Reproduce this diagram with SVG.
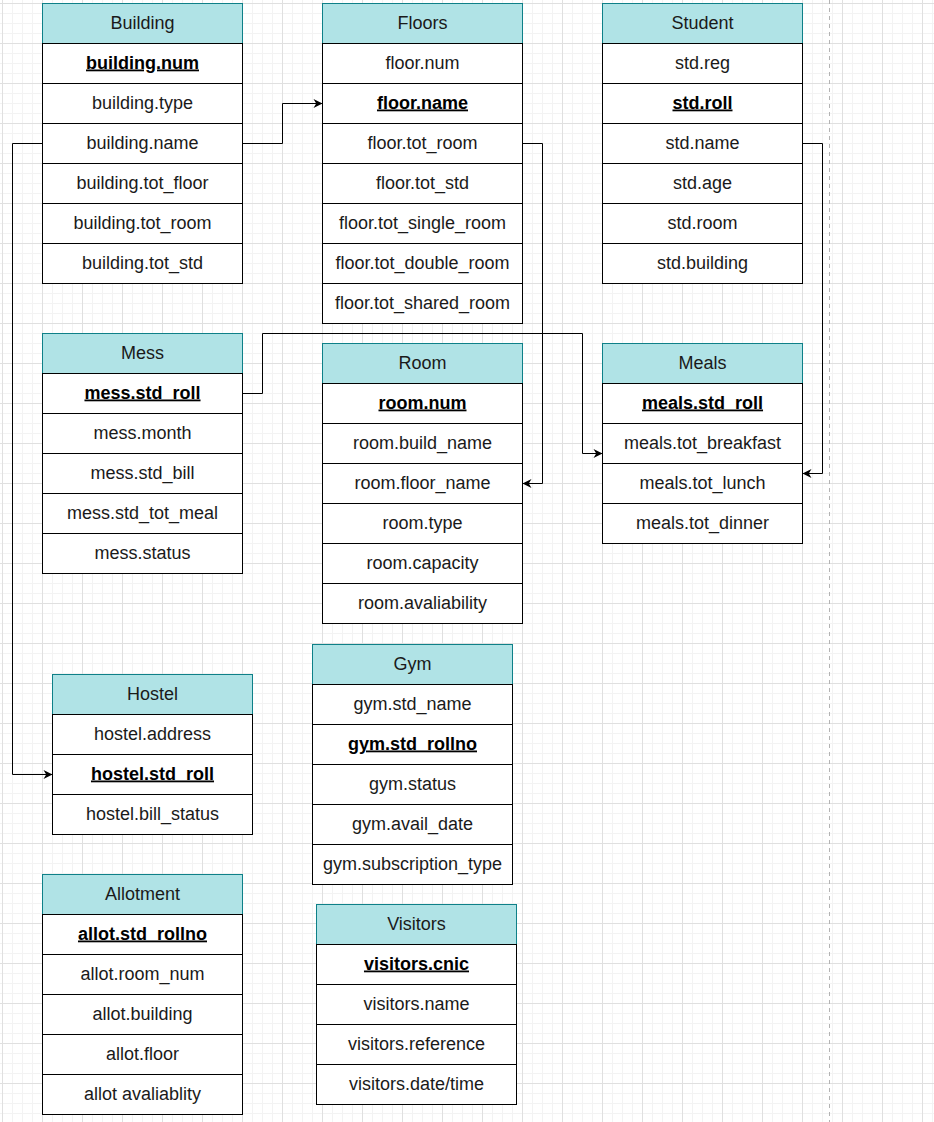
<svg xmlns="http://www.w3.org/2000/svg" width="934" height="1122" viewBox="0 0 934 1122">
<defs>
<pattern id="grid" patternUnits="userSpaceOnUse" x="2" y="3" width="40" height="40">
<path d="M10.5,0 V40 M20.5,0 V40 M30.5,0 V40 M0,10.5 H40 M0,20.5 H40 M0,30.5 H40" stroke="#f3f3f3" stroke-width="1" fill="none"/>
<path d="M0.5,0 V40 M0,0.5 H40" stroke="#e0e0e0" stroke-width="1" fill="none"/>
</pattern>
<marker id="arr" viewBox="0 0 10 10" markerUnits="userSpaceOnUse" markerWidth="10" markerHeight="9" refX="10" refY="5" orient="auto">
<path d="M0,0 L10,5 L0,10 L3,5 Z" fill="#000"/>
</marker>
<style>
.h{fill:#b0e3e6;stroke:#0e8088;stroke-width:1}
.c{fill:#fff;stroke:#000;stroke-width:1}
text{font-family:"Liberation Sans",Arial,sans-serif;font-size:18px;fill:#1a1a1a;text-anchor:middle}
.k{font-weight:bold;text-decoration:underline;fill:#000}
.ln{fill:none;stroke:#000;stroke-width:1}
</style>
</defs>
<rect x="0" y="0" width="934" height="1122" fill="#fff"/>
<rect x="0" y="0" width="934" height="1122" fill="url(#grid)"/>
<line x1="829.5" y1="0" x2="829.5" y2="1122" stroke="#b3b3b3" stroke-width="1" stroke-dasharray="4,4"/>

<g id="building">
<rect class="h" x="42.5" y="3.5" width="200" height="40"/><text x="142.5" y="28.5">Building</text>
<rect class="c" x="42.5" y="43.5" width="200" height="40"/><text class="k" x="142.5" y="68.5">building.num</text>
<rect class="c" x="42.5" y="83.5" width="200" height="40"/><text x="142.5" y="108.5">building.type</text>
<rect class="c" x="42.5" y="123.5" width="200" height="40"/><text x="142.5" y="148.5">building.name</text>
<rect class="c" x="42.5" y="163.5" width="200" height="40"/><text x="142.5" y="188.5">building.tot_floor</text>
<rect class="c" x="42.5" y="203.5" width="200" height="40"/><text x="142.5" y="228.5">building.tot_room</text>
<rect class="c" x="42.5" y="243.5" width="200" height="40"/><text x="142.5" y="268.5">building.tot_std</text>
</g>

<g id="floors">
<rect class="h" x="322.5" y="3.5" width="200" height="40"/><text x="422.5" y="28.5">Floors</text>
<rect class="c" x="322.5" y="43.5" width="200" height="40"/><text x="422.5" y="68.5">floor.num</text>
<rect class="c" x="322.5" y="83.5" width="200" height="40"/><text class="k" x="422.5" y="108.5">floor.name</text>
<rect class="c" x="322.5" y="123.5" width="200" height="40"/><text x="422.5" y="148.5">floor.tot_room</text>
<rect class="c" x="322.5" y="163.5" width="200" height="40"/><text x="422.5" y="188.5">floor.tot_std</text>
<rect class="c" x="322.5" y="203.5" width="200" height="40"/><text x="422.5" y="228.5">floor.tot_single_room</text>
<rect class="c" x="322.5" y="243.5" width="200" height="40"/><text x="422.5" y="268.5">floor.tot_double_room</text>
<rect class="c" x="322.5" y="283.5" width="200" height="40"/><text x="422.5" y="308.5">floor.tot_shared_room</text>
</g>

<g id="student">
<rect class="h" x="602.5" y="3.5" width="200" height="40"/><text x="702.5" y="28.5">Student</text>
<rect class="c" x="602.5" y="43.5" width="200" height="40"/><text x="702.5" y="68.5">std.reg</text>
<rect class="c" x="602.5" y="83.5" width="200" height="40"/><text class="k" x="702.5" y="108.5">std.roll</text>
<rect class="c" x="602.5" y="123.5" width="200" height="40"/><text x="702.5" y="148.5">std.name</text>
<rect class="c" x="602.5" y="163.5" width="200" height="40"/><text x="702.5" y="188.5">std.age</text>
<rect class="c" x="602.5" y="203.5" width="200" height="40"/><text x="702.5" y="228.5">std.room</text>
<rect class="c" x="602.5" y="243.5" width="200" height="40"/><text x="702.5" y="268.5">std.building</text>
</g>

<g id="mess">
<rect class="h" x="42.5" y="333.5" width="200" height="40"/><text x="142.5" y="358.5">Mess</text>
<rect class="c" x="42.5" y="373.5" width="200" height="40"/><text class="k" x="142.5" y="398.5">mess.std_roll</text>
<rect class="c" x="42.5" y="413.5" width="200" height="40"/><text x="142.5" y="438.5">mess.month</text>
<rect class="c" x="42.5" y="453.5" width="200" height="40"/><text x="142.5" y="478.5">mess.std_bill</text>
<rect class="c" x="42.5" y="493.5" width="200" height="40"/><text x="142.5" y="518.5">mess.std_tot_meal</text>
<rect class="c" x="42.5" y="533.5" width="200" height="40"/><text x="142.5" y="558.5">mess.status</text>
</g>

<g id="room">
<rect class="h" x="322.5" y="343.5" width="200" height="40"/><text x="422.5" y="368.5">Room</text>
<rect class="c" x="322.5" y="383.5" width="200" height="40"/><text class="k" x="422.5" y="408.5">room.num</text>
<rect class="c" x="322.5" y="423.5" width="200" height="40"/><text x="422.5" y="448.5">room.build_name</text>
<rect class="c" x="322.5" y="463.5" width="200" height="40"/><text x="422.5" y="488.5">room.floor_name</text>
<rect class="c" x="322.5" y="503.5" width="200" height="40"/><text x="422.5" y="528.5">room.type</text>
<rect class="c" x="322.5" y="543.5" width="200" height="40"/><text x="422.5" y="568.5">room.capacity</text>
<rect class="c" x="322.5" y="583.5" width="200" height="40"/><text x="422.5" y="608.5">room.avaliability</text>
</g>

<g id="meals">
<rect class="h" x="602.5" y="343.5" width="200" height="40"/><text x="702.5" y="368.5">Meals</text>
<rect class="c" x="602.5" y="383.5" width="200" height="40"/><text class="k" x="702.5" y="408.5">meals.std_roll</text>
<rect class="c" x="602.5" y="423.5" width="200" height="40"/><text x="702.5" y="448.5">meals.tot_breakfast</text>
<rect class="c" x="602.5" y="463.5" width="200" height="40"/><text x="702.5" y="488.5">meals.tot_lunch</text>
<rect class="c" x="602.5" y="503.5" width="200" height="40"/><text x="702.5" y="528.5">meals.tot_dinner</text>
</g>

<g id="hostel">
<rect class="h" x="52.5" y="674.5" width="200" height="40"/><text x="152.5" y="699.5">Hostel</text>
<rect class="c" x="52.5" y="714.5" width="200" height="40"/><text x="152.5" y="739.5">hostel.address</text>
<rect class="c" x="52.5" y="754.5" width="200" height="40"/><text class="k" x="152.5" y="779.5">hostel.std_roll</text>
<rect class="c" x="52.5" y="794.5" width="200" height="40"/><text x="152.5" y="819.5">hostel.bill_status</text>
</g>

<g id="gym">
<rect class="h" x="312.5" y="644.5" width="200" height="40"/><text x="412.5" y="669.5">Gym</text>
<rect class="c" x="312.5" y="684.5" width="200" height="40"/><text x="412.5" y="709.5">gym.std_name</text>
<rect class="c" x="312.5" y="724.5" width="200" height="40"/><text class="k" x="412.5" y="749.5">gym.std_rollno</text>
<rect class="c" x="312.5" y="764.5" width="200" height="40"/><text x="412.5" y="789.5">gym.status</text>
<rect class="c" x="312.5" y="804.5" width="200" height="40"/><text x="412.5" y="829.5">gym.avail_date</text>
<rect class="c" x="312.5" y="844.5" width="200" height="40"/><text x="412.5" y="869.5">gym.subscription_type</text>
</g>

<g id="allotment">
<rect class="h" x="42.5" y="874.5" width="200" height="40"/><text x="142.5" y="899.5">Allotment</text>
<rect class="c" x="42.5" y="914.5" width="200" height="40"/><text class="k" x="142.5" y="939.5">allot.std_rollno</text>
<rect class="c" x="42.5" y="954.5" width="200" height="40"/><text x="142.5" y="979.5">allot.room_num</text>
<rect class="c" x="42.5" y="994.5" width="200" height="40"/><text x="142.5" y="1019.5">allot.building</text>
<rect class="c" x="42.5" y="1034.5" width="200" height="40"/><text x="142.5" y="1059.5">allot.floor</text>
<rect class="c" x="42.5" y="1074.5" width="200" height="40"/><text x="142.5" y="1099.5">allot avaliablity</text>
</g>

<g id="visitors">
<rect class="h" x="316.5" y="904.5" width="200" height="40"/><text x="416.5" y="929.5">Visitors</text>
<rect class="c" x="316.5" y="944.5" width="200" height="40"/><text class="k" x="416.5" y="969.5">visitors.cnic</text>
<rect class="c" x="316.5" y="984.5" width="200" height="40"/><text x="416.5" y="1009.5">visitors.name</text>
<rect class="c" x="316.5" y="1024.5" width="200" height="40"/><text x="416.5" y="1049.5">visitors.reference</text>
<rect class="c" x="316.5" y="1064.5" width="200" height="40"/><text x="416.5" y="1089.5">visitors.date/time</text>
</g>

<g id="connectors">
<path class="ln" d="M242.5,143.5 H282.5 V103.5 H322.5" marker-end="url(#arr)"/>
<path class="ln" d="M42.5,143.5 H12.5 V774.5 H52.5" marker-end="url(#arr)"/>
<path class="ln" d="M522.5,143.5 H542.5 V483.5 H522.5" marker-end="url(#arr)"/>
<path class="ln" d="M802.5,143.5 H822.5 V473.5 H802.5" marker-end="url(#arr)"/>
<path class="ln" d="M242.5,393.5 H262.5 V333.5 H582.5 V453.5 H602.5" marker-end="url(#arr)"/>
</g>
</svg>
